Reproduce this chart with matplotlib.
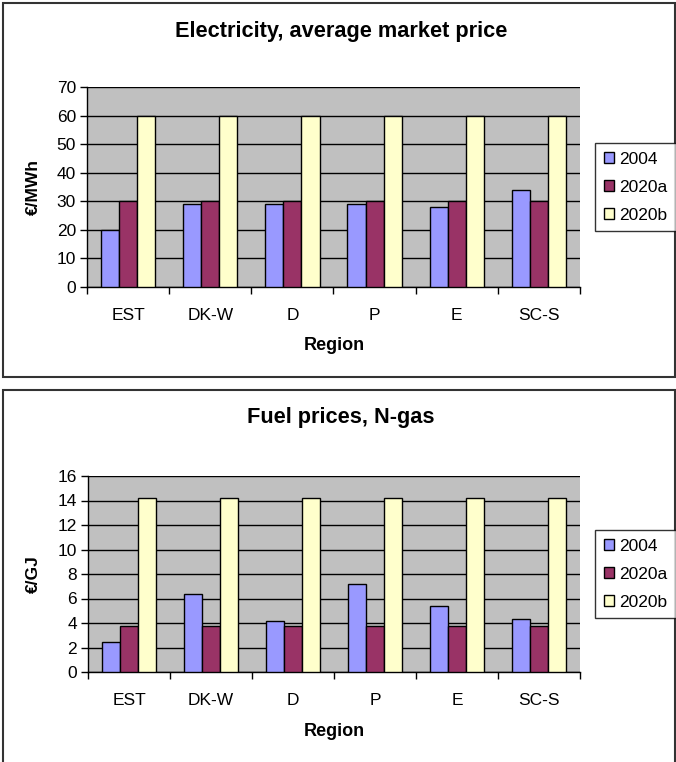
import numpy as np
import matplotlib
matplotlib.use('Agg')
import matplotlib.pyplot as plt
from matplotlib.patches import Rectangle

regions = ['EST', 'DK-W', 'D', 'P', 'E', 'SC-S']
series = ['2004', '2020a', '2020b']
colors = ['#9999FF', '#993366', '#FFFFCC']

elec_2004 = [20, 29, 29, 29, 28, 33.8]
elec_2020a = [30, 30, 30, 30, 30, 30]
elec_2020b = [60, 60, 60, 60, 60, 60]

gas_2004 = [2.45, 6.35, 4.2, 7.2, 5.35, 4.3]
gas_2020a = [3.75, 3.75, 3.75, 3.75, 3.75, 3.75]
gas_2020b = [14.2, 14.2, 14.2, 14.2, 14.2, 14.2]

plt.rcParams['font.family'] = ['Liberation Sans', 'DejaVu Sans']

W, H = 676, 762
fig = plt.figure(figsize=(W / 100, H / 100), dpi=100)


def px(x0, y0, x1, y1):
    # pixel box (top-left origin) -> figure fraction rect
    return [x0 / W, 1 - y1 / H, (x1 - x0) / W, (y1 - y0) / H]


# chart frames
fig.patches.append(Rectangle((3 / W, 1 - 377 / H), 672 / W, 374 / H, transform=fig.transFigure,
                             fill=False, edgecolor='#333333', linewidth=1.5))
fig.patches.append(Rectangle((3 / W, 1 - 800 / H), 672 / W, 410 / H, transform=fig.transFigure,
                             fill=False, edgecolor='#333333', linewidth=1.5))


def draw(box, data, ymax, step, title, ylabel, title_y, xlabel_y, legend_box):
    ax = fig.add_axes(px(*box))
    ax.set_facecolor('#C0C0C0')
    x = np.arange(len(regions))
    w = 0.22
    for i, (vals, c, name) in enumerate(zip(data, colors, series)):
        ax.bar(x + (i - 1) * w, vals, w, color=c, edgecolor='black', linewidth=1, label=name, zorder=3)
    ax.set_xlim(-0.5, len(regions) - 0.5)
    ax.set_ylim(0, ymax)
    ax.set_yticks(np.arange(0, ymax + step / 2, step))
    ax.yaxis.grid(True, color='black', linewidth=1)
    ax.set_axisbelow(True)
    ax.set_xticks(np.arange(-0.5, len(regions), 1))
    ax.set_xticklabels([])
    ax.set_xticks(x, minor=True)
    ax.set_xticklabels(regions, minor=True)
    ax.tick_params(axis='x', which='major', direction='out', length=5, width=1)
    ax.tick_params(axis='x', which='minor', length=0, pad=15, labelsize=12.5)
    ax.tick_params(axis='y', direction='out', length=5, width=1, labelsize=12.5, pad=3)
    for s in ['top', 'right']:
        ax.spines[s].set_visible(False)
    for s in ['left', 'bottom']:
        ax.spines[s].set_linewidth(1)
    fig.text(341 / W, 1 - title_y / H, title, ha='center', va='center', fontsize=15.7, fontweight='bold')
    fig.text(334 / W, 1 - xlabel_y / H, 'Region', ha='center', va='center', fontsize=13, fontweight='bold')
    fig.text(33 / W, 1 - ((box[1] + box[3]) / 2) / H, ylabel, ha='center', va='center',
             rotation=90, fontsize=12.5, fontweight='bold')
    lx0, ly0, lx1, ly1 = legend_box
    leg = fig.legend(*ax.get_legend_handles_labels(), loc='upper left',
                     bbox_to_anchor=(lx0 / W, 1 - ly0 / H), bbox_transform=fig.transFigure,
                     fontsize=12.5, frameon=True, fancybox=False, edgecolor='black',
                     handlelength=0.6, handleheight=0.6, handletextpad=0.3,
                     labelspacing=0.75, borderpad=0.5, borderaxespad=0)
    leg.get_frame().set_linewidth(1)
    return ax


draw((87, 87, 580, 287), [elec_2004, elec_2020a, elec_2020b], 70, 10,
     'Electricity, average market price', '€/MWh', 31, 345, (595, 143, 672, 231))
draw((88, 476, 580, 672), [gas_2004, gas_2020a, gas_2020b], 16, 2,
     'Fuel prices, N-gas', '€/GJ', 418, 731, (595, 530, 672, 619))

fig.savefig('out.png', dpi=100)
